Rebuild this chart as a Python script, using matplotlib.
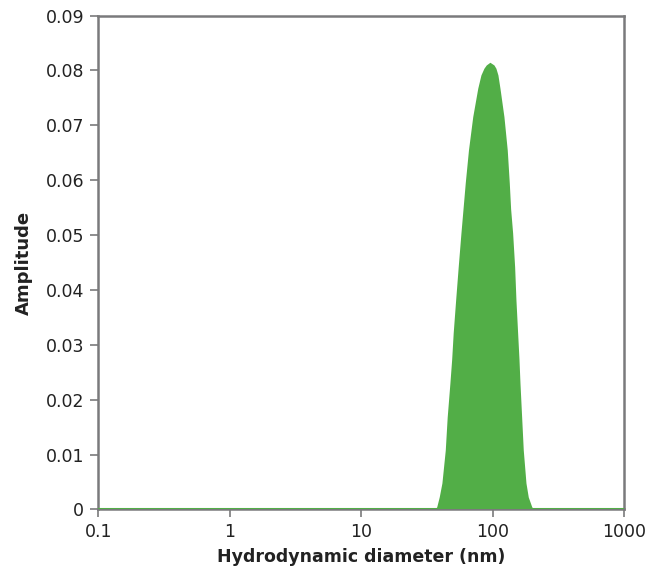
import matplotlib
matplotlib.use("Agg")
import matplotlib.pyplot as plt
from matplotlib.ticker import FixedLocator, FixedFormatter, NullLocator

# size distribution (diameter in nm, amplitude)
diameter = [0.1, 36.3, 37.6, 39.3, 41.2, 43.7, 45.2, 47.4, 48.9, 50.2, 52.4,
            54.8, 57.5, 62.0, 65.6, 70.7, 77.2, 81.6, 86.0, 89.6, 95.5,
            102.5, 106.1, 109.9, 113.9, 122.1, 129.4, 134.1, 137.3, 142.2,
            147.3, 150.7, 155.2, 158.9, 161.7, 166.5, 171.3, 179.6, 187.0,
            199.0, 209.0, 1000]
amplitude = [0, 0, 0.00046, 0.00228, 0.00483, 0.01084, 0.01686, 0.02306,
             0.02743, 0.03217, 0.03818, 0.04420, 0.05039, 0.05951, 0.06552,
             0.07159, 0.07677, 0.07919, 0.08041, 0.08101, 0.08150, 0.08101,
             0.08041, 0.07919, 0.07677, 0.07159, 0.06552, 0.05951, 0.05477,
             0.05039, 0.04420, 0.03818, 0.03217, 0.02743, 0.02306, 0.01686,
             0.01084, 0.00483, 0.00228, 0.00046, 0, 0]

xticks = [0.1, 1, 10, 100, 1000]
xtick_labels = ["0.1", "1", "10", "100", "1000"]
yticks = [0, 0.01, 0.02, 0.03, 0.04, 0.05, 0.06, 0.07, 0.08, 0.09]
ytick_labels = ["0", "0.01", "0.02", "0.03", "0.04", "0.05", "0.06", "0.07", "0.08", "0.09"]

green = "#52ae47"
grey = "#7a7a7c"
txt = "#222222"

plt.rcParams["font.family"] = ["DejaVu Sans"]

fig = plt.figure(figsize=(6.5, 5.68), dpi=100)
ax = fig.add_axes([0.151, 0.103, 0.809, 0.8695])

ax.fill_between(diameter, amplitude, 0, color=green, lw=0, zorder=2)
# green baseline along the zero amplitude level
ax.axhline(0, color=green, lw=2.2, zorder=3)

ax.set_xscale("log")
ax.set_xlim(0.1, 1000)
ax.set_ylim(0, 0.09)

ax.xaxis.set_major_locator(FixedLocator(xticks))
ax.xaxis.set_major_formatter(FixedFormatter(xtick_labels))
ax.xaxis.set_minor_locator(NullLocator())
ax.yaxis.set_major_locator(FixedLocator(yticks))
ax.yaxis.set_major_formatter(FixedFormatter(ytick_labels))

for s in ax.spines.values():
    s.set_color(grey)
    s.set_linewidth(1.8)

ax.tick_params(axis="both", direction="out", length=6, width=1.2, color=grey,
               labelsize=12.5, labelcolor=txt, pad=4)

ax.set_xlabel("Hydrodynamic diameter (nm)", fontsize=12.5, fontweight="bold",
              color=txt, labelpad=5)
ax.set_ylabel("Amplitude", fontsize=13, fontweight="bold", color=txt, labelpad=9)

fig.savefig("out.png", dpi=100)
